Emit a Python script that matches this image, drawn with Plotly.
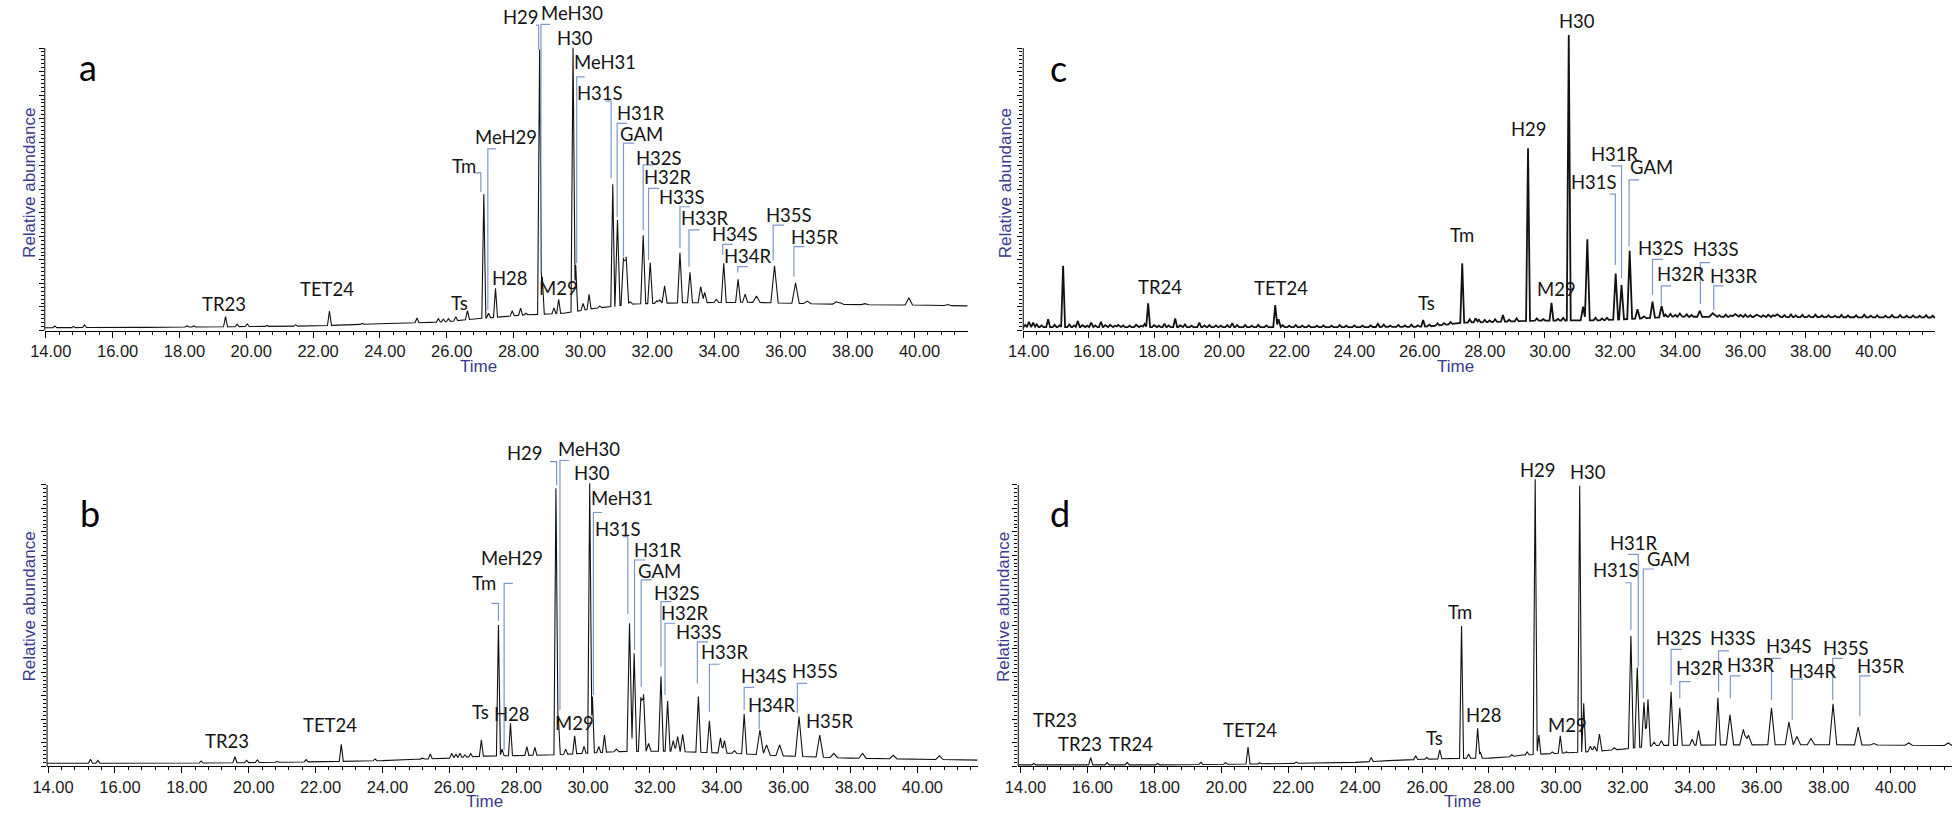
import numpy as np
import plotly.graph_objects as go

W, H = 1958, 814

# ------------------------------------------------------------------ data
# Peak apex retention times (min) and apex heights (% relative abundance)
A_PEAK_T = [14.27, 14.83, 15.16, 18.23, 18.43, 19.38, 19.73, 20.03, 20.62, 21.48, 22.49, 23.47, 24.86, 25.11,
            25.75, 25.90, 26.05, 26.27, 26.62, 27.11, 27.25, 27.46, 27.96, 28.21, 28.37, 28.78, 28.86, 29.21,
            29.35, 29.78, 29.86, 30.08, 30.26, 30.58, 30.97, 31.11, 31.29, 31.37, 31.49, 31.88, 32.09, 32.29,
            32.38, 32.52, 32.98, 33.28, 33.60, 33.72, 34.07, 34.29, 34.72, 34.93, 35.27, 35.81, 36.44, 36.79,
            37.66, 37.78, 38.52, 39.83, 41.00]
A_PEAK_H = [1.6, 1.4, 2.0, 1.6, 1.6, 4.9, 2.2, 2.3, 1.8, 2.0, 6.9, 2.5, 2.9, 4.4,
            4.2, 4.0, 4.2, 4.9, 7.0, 48.2, 6.1, 14.9, 7.0, 7.9, 6.1, 99.5, 19.0, 8.0,
            11.0, 100.1, 23.2, 9.6, 12.8, 8.7, 51.8, 39.1, 25.7, 26.1, 10.2, 33.7, 24.1, 10.5,
            10.8, 15.8, 27.5, 20.6, 15.5, 13.5, 11.0, 23.8, 18.1, 12.9, 12.2, 22.9, 16.9, 10.4,
            10.2, 9.8, 9.5, 11.6, 9.2]
A_BASE_T = [13.97, 17, 20, 22, 23, 24, 25, 26, 27, 27.7, 28.3, 29.5, 30.4, 31.6, 33, 35, 36.5, 38, 40, 41.59]
A_BASE_H = [1.0, 1.1, 1.4, 1.6, 2.0, 2.4, 2.7, 3.1, 4.3, 4.9, 5.5, 6.1, 7.8, 9.4, 9.8, 10.0, 9.6, 9.2, 9.0, 8.7]

B_PEAK_T = [15.27, 15.49, 18.58, 19.59, 19.94, 20.26, 20.85, 21.72, 22.77, 23.78, 25.20, 25.43, 26.07, 26.20,
            26.32, 26.47, 26.64, 26.96, 27.47, 27.58, 27.83, 28.32, 28.56, 29.19, 29.26, 29.48, 29.75, 30.03,
            30.20, 30.28, 30.47, 30.64, 31.00, 31.39, 31.53, 31.73, 31.81, 31.96, 32.33, 32.53, 32.70, 32.83,
            32.98, 33.45, 33.78, 34.11, 34.23, 34.53, 34.82, 35.29, 35.49, 35.88, 36.46, 37.08, 37.50, 38.36,
            39.28, 40.66]
B_PEAK_H = [2.4, 2.0, 1.8, 3.3, 2.0, 2.2, 1.6, 2.3, 7.7, 2.5, 2.8, 4.3, 4.5, 4.3,
            4.5, 4.0, 4.4, 9.3, 50.2, 6.0, 15.2, 6.9, 6.6, 98.8, 18.0, 6.0, 10.7, 7.0,
            100.6, 24.7, 7.0, 11.0, 6.0, 50.8, 40.1, 24.5, 25.5, 8.0, 31.8, 23.1, 9.0, 10.5,
            11.3, 24.7, 16.1, 10.0, 9.0, 5.5, 18.5, 12.8, 7.5, 7.5, 17.6, 11.0, 4.5, 4.5,
            3.8, 3.6]
B_BASE_T = [13.97, 18, 20, 22, 24, 25, 26, 27, 29, 30, 31, 32.5, 34.5, 36, 38, 41.8]
B_BASE_H = [1.0, 1.0, 1.2, 1.5, 1.9, 2.4, 2.8, 3.5, 3.9, 4.5, 5.1, 5.3, 4.5, 3.6, 2.8, 2.1]

C_PEAK_T = [14.16, 14.29, 14.75, 15.21, 15.66, 16.07, 16.37, 16.90, 17.71, 17.82, 18.32, 18.65, 19.39, 20.40,
            21.72, 21.82, 24.87, 26.26, 27.46, 27.69, 27.87, 27.97, 28.47, 28.71, 29.13, 29.48, 30.20, 30.56,
            30.73, 31.17, 31.30, 32.17, 32.35, 32.60, 32.84, 33.04, 33.30, 33.58, 34.14, 34.75, 35.15, 35.84,
            36.50, 37.13]
C_PEAK_H = [3.1, 2.8, 4.0, 22.9, 3.4, 2.8, 3.1, 2.0, 2.3, 9.6, 2.4, 4.3, 2.8, 2.6,
            9.0, 4.0, 2.4, 3.7, 23.8, 4.0, 4.3, 3.8, 4.0, 5.5, 4.3, 64.5, 9.8, 4.5,
            104.6, 8.4, 32.3, 20.2, 16.1, 28.2, 7.5, 5.0, 10.2, 8.7, 6.0, 7.0, 6.1, 5.8,
            5.6, 5.7]
# small noise wiggles of trace c (time, height above baseline)
C_NOISE_T = [14.05, 14.40, 14.55, 14.95, 15.10, 15.40, 15.55, 15.80, 15.95, 16.20, 16.50, 16.65, 16.80, 17.05,
             17.25, 17.45, 17.60, 18.00, 18.15, 18.45, 18.80, 18.95, 19.15, 19.55, 19.70, 19.90, 20.05, 20.25,
             20.55, 20.80, 21.00, 21.20, 21.45, 21.95, 22.15, 22.35, 22.55, 22.75, 23.00, 23.20, 23.45, 23.70,
             23.90, 24.15, 24.40, 24.65, 25.05, 25.25, 25.50, 25.70, 25.90, 26.10, 26.45, 26.70, 26.90, 27.10,
             28.15, 28.30, 28.90, 29.75, 29.95, 30.40, 31.55, 31.75, 31.90, 33.70, 33.85, 34.00, 34.35, 34.50,
             35.35, 35.55, 35.70, 36.00, 36.15, 36.30, 36.70, 36.85, 37.00, 37.35, 37.55, 37.70, 37.90, 38.10,
             38.30, 38.50, 38.70, 38.90, 39.10, 39.30, 39.55, 39.80, 40.00, 40.20, 40.45, 40.65, 40.90, 41.10,
             41.30, 41.50, 41.70, 41.90]
C_NOISE_H = [0.8, 1.0, 0.6, 0.8, 0.6, 0.9, 0.6, 0.7, 0.5, 0.6, 0.7, 0.8, 0.5, 0.6,
             0.5, 0.8, 0.5, 0.7, 0.5, 0.6, 0.6, 0.9, 0.5, 0.6, 0.7, 0.6, 0.5, 0.7,
             0.7, 0.7, 0.5, 0.8, 0.6, 0.7, 0.5, 0.7, 0.5, 0.6, 0.5, 0.6, 0.5, 0.7,
             0.5, 0.6, 0.5, 0.6, 0.8, 0.5, 0.7, 0.5, 0.8, 0.5, 0.6, 0.8, 0.6, 0.7,
             0.8, 0.6, 0.6, 0.8, 0.5, 0.6, 0.9, 0.6, 0.8, 0.8, 1.0, 0.6, 0.9, 0.6,
             0.6, 0.8, 0.5, 0.7, 0.9, 0.6, 0.6, 0.8, 0.6, 0.7, 0.9, 0.6, 0.8, 0.6,
             0.9, 0.6, 0.7, 0.5, 0.8, 0.6, 0.7, 0.9, 0.6, 0.7, 0.6, 0.8, 0.8, 0.6,
             0.7, 0.6, 0.8, 0.6]
C_BASE_T = [13.985, 16, 20, 24, 26, 26.5, 27.5, 28, 29.8, 31.7, 33, 33.8, 36, 41.98]
C_BASE_H = [1.2, 1.2, 1.2, 1.2, 1.3, 1.5, 2.8, 2.9, 3.5, 3.6, 4.3, 4.9, 4.8, 4.6]

D_PEAK_T = [14.40, 16.10, 16.59, 17.19, 18.10, 19.39, 20.13, 20.80, 21.15, 22.24, 24.48, 25.42, 25.81, 26.14,
            26.53, 27.18, 27.39, 27.66, 27.74, 28.68, 29.14, 29.38, 29.49, 29.89, 30.13, 30.31, 30.71, 30.83,
            31.03, 31.15, 31.30, 31.74, 32.24, 32.43, 32.63, 32.75, 32.93, 33.15, 33.44, 33.70, 34.07, 34.26,
            34.84, 35.20, 35.60, 35.75, 36.44, 36.96, 37.20, 37.62, 38.28, 39.03, 39.50, 40.54, 41.72]
D_PEAK_H = [0.9, 3.0, 1.2, 1.3, 0.9, 1.3, 1.2, 6.7, 1.1, 1.4, 3.0, 2.2, 3.6, 3.0,
            5.7, 49.8, 4.3, 13.4, 5.0, 4.0, 5.0, 102.0, 11.0, 5.0, 10.7, 5.0, 99.7, 22.3,
            7.0, 7.0, 11.4, 6.5, 46.3, 35.0, 22.7, 23.7, 8.5, 9.0, 26.4, 20.7, 9.5, 12.6,
            24.3, 18.2, 13.0, 11.0, 20.7, 15.6, 10.5, 9.8, 22.1, 13.8, 8.0, 8.2, 8.2]
D_BASE_T = [13.935, 18, 20, 22, 24, 25, 26, 27, 28, 28.5, 29, 30, 31, 31.5, 32, 33, 35, 38, 41.835]
D_BASE_H = [0.4, 0.4, 0.6, 0.9, 1.3, 1.9, 2.4, 2.7, 2.8, 3.1, 3.9, 4.5, 5.1, 5.5, 6.0, 7.3, 7.5, 7.6, 7.3]

# Peak labels: (text, time, abundance)
LABELS_A = [("TR23", 19.32, 9.4), ("TET24", 22.43, 14.7), ("Ts", 26.38, 9.7), ("Tm", 26.53, 58.2),
            ("MeH29", 27.78, 68.5), ("H28", 27.88, 18.6), ("H29", 28.23, 110.9), ("MeH30", 29.76, 112.3),
            ("H30", 29.83, 103.4), ("MeH31", 30.75, 94.9), ("H31S", 30.60, 84.0), ("H31R", 31.81, 76.9),
            ("GAM", 31.84, 69.5), ("H32S", 32.36, 61.2), ("H32R", 32.61, 54.4), ("H33S", 33.05, 47.4),
            ("H33R", 33.72, 39.9), ("H34S", 34.64, 34.1), ("H34R", 35.01, 26.5), ("H35S", 36.25, 40.9),
            ("H35R", 37.02, 33.0), ("M29", 29.35, 14.9)]
LABELS_B = [("TR23", 19.34, 8.9), ("TET24", 22.43, 14.6), ("Ts", 26.93, 19.3), ("Tm", 27.04, 65.0),
            ("MeH29", 27.87, 73.9), ("H28", 27.87, 18.5), ("H29", 28.25, 111.3), ("MeH30", 30.18, 112.7),
            ("H30", 30.28, 104.2), ("MeH31", 31.18, 95.3), ("H31S", 31.05, 84.2), ("H31R", 32.25, 76.9),
            ("GAM", 32.28, 69.4), ("H32S", 32.82, 61.7), ("H32R", 33.04, 54.6), ("H33S", 33.47, 47.8),
            ("H33R", 34.26, 40.5), ("H34S", 35.42, 32.1), ("H34R", 35.64, 21.7), ("H35S", 36.95, 33.8),
            ("H35R", 37.38, 16.0), ("M29", 29.75, 15.2)]
LABELS_C = [("TR24", 18.17, 15.5), ("TET24", 21.90, 14.9), ("Ts", 26.36, 9.8), ("Tm", 27.46, 33.8),
            ("H29", 29.52, 71.2), ("H30", 30.98, 109.7), ("M29", 30.35, 14.6), ("H31R", 32.16, 62.4),
            ("H31S", 31.52, 52.7), ("GAM", 33.27, 58.0), ("H32S", 33.57, 29.1), ("H32R", 34.16, 19.9),
            ("H33S", 35.26, 28.7), ("H33R", 35.80, 19.3)]
LABELS_D = [("TR23", 15.04, 16.4), ("TR23", 15.78, 7.7), ("TR24", 17.29, 7.7), ("TET24", 20.87, 12.8),
            ("Ts", 26.36, 9.9), ("Tm", 27.12, 54.7), ("H28", 27.86, 18.2), ("H29", 29.47, 105.3),
            ("H30", 30.95, 104.7), ("M29", 30.36, 14.6), ("H31R", 32.34, 79.5), ("H31S", 31.79, 69.8),
            ("GAM", 33.37, 73.6), ("H32S", 33.69, 45.7), ("H32R", 34.31, 34.8), ("H33S", 35.30, 45.7),
            ("H33R", 35.82, 35.9), ("H34S", 36.95, 42.7), ("H34R", 37.67, 33.8), ("H35S", 38.66, 41.9),
            ("H35R", 39.72, 35.6)]

# Leader brackets: (horizontal end time, top abundance, vertical time, bottom abundance)
BRACKETS_A = [(26.83, 55.8, 27.02, 49.0), (27.48, 64.3, 27.23, 7.3), (28.67, 108.1, 28.75, 99.5),
              (29.10, 108.4, 28.82, 20.2), (30.13, 89.8, 29.89, 23.8), (30.75, 81.2, 30.92, 53.9),
              (31.40, 73.3, 31.10, 40.3), (31.61, 66.3, 31.29, 26.1), (32.19, 58.6, 31.88, 35.6),
              (32.36, 50.3, 32.04, 25.0), (33.28, 43.8, 32.98, 29.1), (33.57, 35.6, 33.25, 22.6),
              (34.56, 30.5, 34.26, 26.7), (35.01, 22.6, 34.71, 20.5), (36.10, 37.3, 35.77, 24.7),
              (36.71, 29.7, 36.39, 19.0)]
BRACKETS_B = [(27.26, 57.9, 27.47, 51.7), (27.90, 65.0, 27.64, 5.7), (29.01, 108.3, 29.21, 100.0),
              (29.58, 108.7, 29.31, 19.9), (30.57, 90.2, 30.31, 25.3), (31.20, 81.6, 31.34, 54.1),
              (31.86, 73.3, 31.54, 41.3), (32.06, 66.2, 31.74, 28.2), (32.65, 58.5, 32.33, 35.3),
              (32.75, 50.8, 32.45, 25.3), (33.74, 44.2, 33.42, 29.4), (34.08, 36.2, 33.78, 19.3),
              (35.12, 28.0, 34.82, 19.9), (35.57, 19.7, 35.27, 13.1), (36.70, 29.4, 36.41, 18.8)]
BRACKETS_C = [(32.03, 58.3, 32.35, 18.5), (31.98, 48.3, 32.16, 23.2), (32.89, 53.3, 32.58, 29.7),
              (33.62, 25.2, 33.30, 12.6), (33.88, 15.8, 33.57, 9.0), (35.07, 24.0, 34.77, 9.4),
              (35.48, 15.8, 35.18, 7.3)]
BRACKETS_D = [(32.16, 75.3, 32.46, 35.3), (32.07, 65.2, 32.24, 48.4), (32.93, 70.1, 32.61, 24.1),
              (33.77, 41.5, 33.44, 28.8), (34.04, 30.0, 33.70, 24.1), (35.17, 41.0, 34.86, 26.4),
              (35.52, 32.1, 35.21, 24.1), (36.73, 38.3, 36.44, 23.5), (37.38, 30.9, 37.06, 16.4),
              (38.57, 38.3, 38.27, 23.5), (39.40, 32.1, 39.08, 17.8)]

# ------------------------------------------------------------------ layout geometry (pixels)
PANELS = [
    dict(key="a", ax="", x0=30.0, x1=960.0, ybot=330.5, ytop=0.0, xr=[13.97, 41.59], ymax=117.0,
         letter=(15.26, 93.2), time_px=(467, 366), ylab_px=(15, 183), lw=1.1,
         peaks=(A_PEAK_T, A_PEAK_H), base=(A_BASE_T, A_BASE_H), noise=([], []),
         labels=LABELS_A, brackets=BRACKETS_A),
    dict(key="b", ax="2", x0=32.3, x1=970.0, ybot=766.0, ytop=440.0, xr=[13.97, 41.80], ymax=116.0,
         letter=(15.24, 90.2), time_px=(473, 801), ylab_px=(15, 606.7), lw=1.1,
         peaks=(B_PEAK_T, B_PEAK_H), base=(B_BASE_T, B_BASE_H), noise=([], []),
         labels=LABELS_B, brackets=BRACKETS_B),
    dict(key="c", ax="3", x0=1016.0, x1=1935.1, ybot=330.5, ytop=0.0, xr=[13.985, 41.98], ymax=117.0,
         letter=(15.07, 92.8), time_px=(1451.7, 366), ylab_px=(999, 183), lw=1.8,
         peaks=(C_PEAK_T, C_PEAK_H), base=(C_BASE_T, C_BASE_H), noise=(C_NOISE_T, C_NOISE_H),
         labels=LABELS_C, brackets=BRACKETS_C),
    dict(key="d", ax="4", x0=1011.0, x1=1952.0, ybot=766.0, ytop=440.0, xr=[13.935, 41.835], ymax=116.0,
         letter=(15.19, 90.2), time_px=(1458.3, 801), ylab_px=(996, 606.7), lw=1.1,
         peaks=(D_PEAK_T, D_PEAK_H), base=(D_BASE_T, D_BASE_H), noise=([], []),
         labels=LABELS_D, brackets=BRACKETS_D),
]

LABEL_FONT = dict(family="Lato, Open Sans, sans-serif", size=18.5, color="#141414")
TICK_FONT = dict(family="Arial, Liberation Sans, sans-serif", size=16.5, color="#1a1a1a")
AXIS_TITLE_COLOR = "#3a3a8c"
BRACKET_COLOR = "#7f97c8"


def half_width(t):
    return 0.06 if t < 31 else (0.075 if t < 35 else 0.11)


def chromatogram(peak_t, peak_h, base_t, base_h, noise_t, noise_h):
    bt = np.asarray(base_t, float)
    bh = np.asarray(base_h, float)
    comps = []
    for t, h in zip(peak_t, peak_h):
        comps.append((t, max(h - float(np.interp(t, bt, bh)), 0.0), half_width(t)))
    for t, a in zip(noise_t, noise_h):
        comps.append((t, a, 0.06))
    knots = set(bt.tolist())
    for t, a, w in comps:
        knots.update((t - w, t, t + w))
    xs = np.array(sorted(k for k in knots if bt[0] <= k <= bt[-1]))
    ys = np.interp(xs, bt, bh)
    for t, a, w in comps:
        ys = ys + a * np.clip(1.0 - np.abs(xs - t) / w, 0.0, None)
    return xs, ys


fig = go.Figure()
annotations = []
shapes = []
major_y = [i * 100.0 / 12 for i in range(13)]
minor_y = [i * 100.0 / 72 for i in range(73)]

for p in PANELS:
    xa = "x" + p["ax"]
    ya = "y" + p["ax"]
    xs, ys = chromatogram(*p["peaks"], *p["base"], *p["noise"])
    fig.add_trace(go.Scatter(x=xs, y=ys, mode="lines", xaxis=xa, yaxis=ya,
                             line=dict(color="#111111", width=p["lw"]),
                             hoverinfo="skip", showlegend=False))

    fig.layout["xaxis" + p["ax"]] = dict(
        domain=[p["x0"] / W, p["x1"] / W], range=p["xr"], anchor=ya,
        showline=True, linecolor="black", linewidth=1, mirror=False,
        ticks="outside", ticklen=6, tickwidth=1, tickcolor="black",
        tick0=14, dtick=2, tickformat=".2f", tickfont=TICK_FONT, ticklabelshift=5,
        minor=dict(dtick=0.4, tick0=14, ticks="outside", ticklen=3, tickwidth=1, tickcolor="black"),
        showgrid=False, zeroline=False, fixedrange=True)
    fig.layout["yaxis" + p["ax"]] = dict(
        domain=[1 - p["ybot"] / H, 1 - p["ytop"] / H], range=[0, p["ymax"]], anchor=xa,
        showline=False, showticklabels=False,
        ticks="outside", tickmode="array", tickvals=major_y, ticklen=5, tickwidth=1, tickcolor="black",
        minor=dict(tickmode="array", tickvals=minor_y, ticks="outside", ticklen=3, tickwidth=1,
                   tickcolor="black"),
        showgrid=False, zeroline=False, fixedrange=True)

    # y axis line (stops at 100 %)
    shapes.append(dict(type="line", xref="paper", yref=ya, x0=p["x0"] / W, x1=p["x0"] / W,
                       y0=0, y1=100, line=dict(color="black", width=1)))

    for text, t, v in p["labels"]:
        annotations.append(dict(text=text, x=t, y=v, xref=xa, yref=ya, showarrow=False,
                                xanchor="center", yanchor="middle", borderpad=0, font=LABEL_FONT))
    for end_t, top_v, vx, bot_v in p["brackets"]:
        shapes.append(dict(type="path", xref=xa, yref=ya,
                           path=f"M {end_t},{top_v} L {vx},{top_v} L {vx},{bot_v}",
                           line=dict(color=BRACKET_COLOR, width=1.2)))

    lt, lv = p["letter"]
    annotations.append(dict(text=p["key"], x=lt, y=lv, xref=xa, yref=ya, showarrow=False,
                            xanchor="center", yanchor="middle",
                            font=dict(family="Lato, Open Sans, sans-serif", size=36, color="black")))
    tx, ty = p["time_px"]
    annotations.append(dict(text="Time", x=tx / W, y=1 - ty / H, xref="paper", yref="paper",
                            showarrow=False, xanchor="center", yanchor="middle", borderpad=0,
                            font=dict(family="Arial, Liberation Sans, sans-serif", size=17,
                                      color=AXIS_TITLE_COLOR)))
    lx, ly = p["ylab_px"]
    annotations.append(dict(text="Relative abundance", x=lx / W, y=1 - ly / H, xref="paper",
                            yref="paper", showarrow=False, xanchor="center", yanchor="middle",
                            textangle=-90,
                            font=dict(family="Arial, Liberation Sans, sans-serif", size=17,
                                      color=AXIS_TITLE_COLOR)))

fig.update_layout(width=W, height=H, autosize=False, margin=dict(l=0, r=0, t=0, b=0),
                  paper_bgcolor="white", plot_bgcolor="white",
                  annotations=annotations, shapes=shapes, showlegend=False)

fig.write_html("out.html", config={"displayModeBar": False, "staticPlot": True},
               post_script="document.body.style.margin='0px';"
                           "document.body.style.padding='0px';"
                           "document.documentElement.style.overflow='hidden';")
